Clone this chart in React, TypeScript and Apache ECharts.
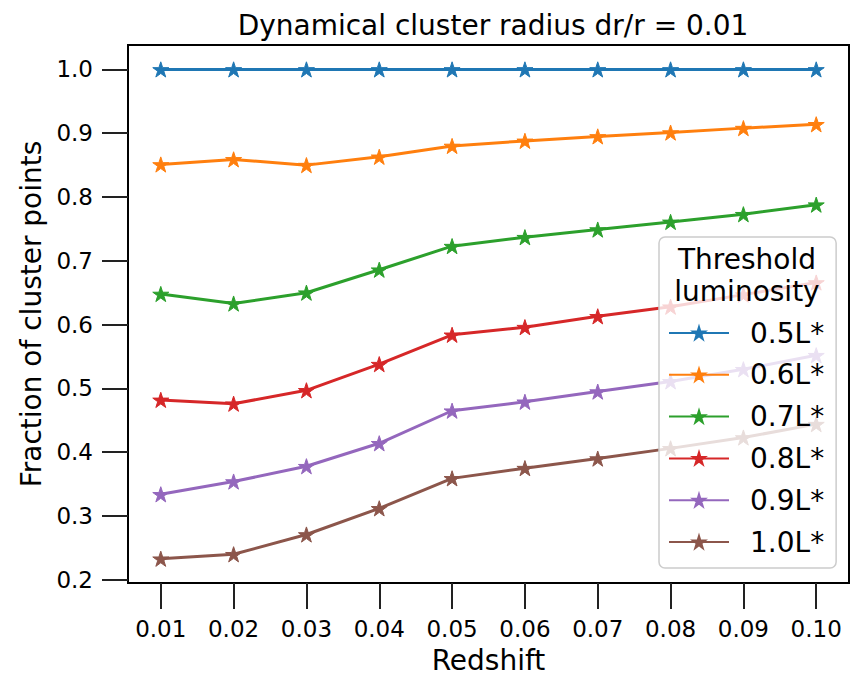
import React, { useEffect, useRef } from "react";
import * as echarts from "echarts";

const redshift = [0.01, 0.02, 0.03, 0.04, 0.05, 0.06, 0.07, 0.08, 0.09, 0.1];
const seriesNames = ["0.5L*", "0.6L*", "0.7L*", "0.8L*", "0.9L*", "1.0L*"];
const frac05 = [1.0, 1.0, 1.0, 1.0, 1.0, 1.0, 1.0, 1.0, 1.0, 1.0];
const frac06 = [0.851, 0.859, 0.85, 0.863, 0.88, 0.888, 0.895, 0.901, 0.908, 0.914];
const frac07 = [0.648, 0.633, 0.65, 0.686, 0.723, 0.737, 0.749, 0.761, 0.773, 0.788];
const frac08 = [0.482, 0.476, 0.497, 0.538, 0.584, 0.596, 0.613, 0.628, 0.647, 0.666];
const frac09 = [0.334, 0.354, 0.378, 0.414, 0.465, 0.479, 0.495, 0.511, 0.53, 0.552];
const frac10 = [0.233, 0.24, 0.271, 0.312, 0.359, 0.375, 0.39, 0.406, 0.423, 0.444];
const xTicks = [0.01, 0.02, 0.03, 0.04, 0.05, 0.06, 0.07, 0.08, 0.09, 0.1];
const yTicks = [0.2, 0.3, 0.4, 0.5, 0.6, 0.7, 0.8, 0.9, 1.0];
const colors = ["#1f77b4", "#ff7f0e", "#2ca02c", "#d62728", "#9467bd", "#8c564b"];

const allSeries = [frac05, frac06, frac07, frac08, frac09, frac10];

function starPath(): string {
  const parts: string[] = [];
  for (let i = 0; i < 10; i++) {
    const r = i % 2 === 0 ? 1 : 0.381966;
    const a = ((-90 + i * 36) * Math.PI) / 180;
    const x = (r * Math.cos(a)).toFixed(4);
    const y = (r * Math.sin(a)).toFixed(4);
    parts.push((i === 0 ? "M" : "L") + x + " " + y);
  }
  return "path://" + parts.join(" ") + " Z";
}

const FONT = "DejaVu Sans";

export default function App() {
  const ref = useRef<HTMLDivElement>(null);
  useEffect(() => {
    if (!ref.current) return;
    const chart = echarts.init(ref.current, undefined, { renderer: "svg" });
    const star = starPath();
    const option: any = {
      animation: false,
      backgroundColor: "#ffffff",
      title: {
        text: "Dynamical cluster radius dr/r = 0.01",
        left: 488,
        top: 6,
        textAlign: "center",
        textStyle: { fontFamily: FONT, fontSize: 28, fontWeight: "normal", color: "#000" },
      },
      grid: {
        left: 128,
        top: 45,
        width: 721,
        height: 538,
        show: true,
        borderColor: "#000",
        borderWidth: 2,
        backgroundColor: "transparent",
        containLabel: false,
        outerBoundsMode: "none",
      },
      xAxis: {
        type: "value",
        min: 0.0055,
        max: 0.1045,
        name: "Redshift",
        nameLocation: "middle",
        nameGap: 63,
        nameTextStyle: { fontFamily: FONT, fontSize: 28, color: "#000" },
        axisLine: { show: true, lineStyle: { color: "#000", width: 2 } },
        axisTick: {
          show: true,
          length: 26,
          lineStyle: { color: "#222", width: 2 },
          customValues: xTicks,
        },
        axisLabel: {
          customValues: xTicks,
          margin: 34,
          fontFamily: FONT,
          fontSize: 23,
          color: "#000",
          formatter: (v: number) => v.toFixed(2),
        },
        splitLine: { show: false },
      },
      yAxis: {
        type: "value",
        min: 0.195,
        max: 1.0383,
        name: "Fraction of cluster points",
        nameLocation: "middle",
        nameGap: 80,
        nameTextStyle: { fontFamily: FONT, fontSize: 28, color: "#000" },
        axisLine: { show: true, lineStyle: { color: "#000", width: 2 } },
        axisTick: {
          show: true,
          length: 26,
          lineStyle: { color: "#222", width: 2 },
          customValues: yTicks,
        },
        axisLabel: {
          customValues: yTicks,
          margin: 35,
          fontFamily: FONT,
          fontSize: 23,
          color: "#000",
          formatter: (v: number) => v.toFixed(1),
        },
        splitLine: { show: false },
      },
      legend: {
        show: true,
        orient: "vertical",
        left: 659,
        top: 237,
        selectedMode: false,
        itemWidth: 60,
        itemHeight: 15,
        itemGap: 9.8,
        padding: [80, 12, 10, 9],
        backgroundColor: "rgba(255,255,255,0.8)",
        borderColor: "#cccccc",
        borderWidth: 1.5,
        borderRadius: 6,
        textStyle: {
          fontFamily: FONT,
          fontSize: 28,
          color: "#000",
          lineHeight: 32,
          padding: [0, 0, 0, 16],
        },
        data: seriesNames,
        z: 10,
      },
      graphic: [
        {
          type: "text",
          x: 747,
          y: 259,
          z: 100,
          style: {
            text: "Threshold",
            fontFamily: FONT,
            fontSize: 28,
            fill: "#000",
            align: "center",
            verticalAlign: "middle",
          },
        },
        {
          type: "text",
          x: 747,
          y: 291,
          z: 100,
          style: {
            text: "luminosity",
            fontFamily: FONT,
            fontSize: 28,
            fill: "#000",
            align: "center",
            verticalAlign: "middle",
          },
        },
      ],
      series: allSeries.map((vals, i) => ({
        type: "line",
        name: seriesNames[i],
        data: redshift.map((x, j) => [x, vals[j]]),
        symbol: star,
        symbolSize: 16,
        symbolKeepAspect: true,
        showSymbol: true,
        color: colors[i],
        lineStyle: { color: colors[i], width: 3 },
        itemStyle: { color: colors[i], borderColor: colors[i], borderWidth: 1 },
        z: 2,
      })),
    };
    chart.setOption(option);
    return () => chart.dispose();
  }, []);
  return (
    <div
      ref={ref}
      style={{ position: "fixed", left: 0, top: 0, width: 858, height: 675 }}
    />
  );
}
